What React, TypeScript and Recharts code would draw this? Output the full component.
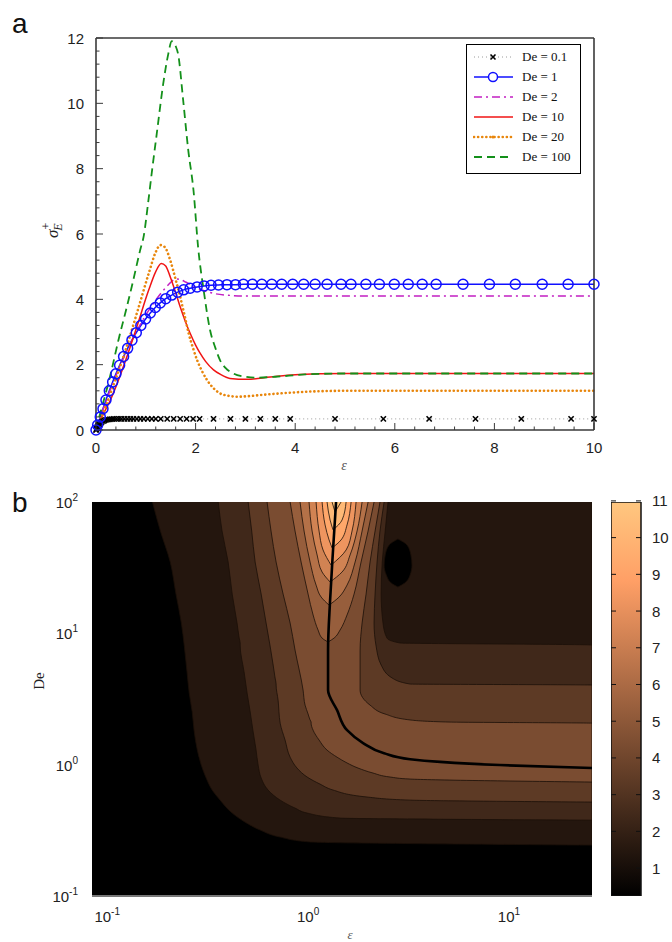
import React from 'react';
import {
  LineChart, Line, XAxis, YAxis, Legend,
  ComposedChart, Area, CartesianGrid, BarChart, Bar,
} from 'recharts';

type Pt = [number, number];
type Row = [number, number, number];

// ---------- panel a : sigma_E^+ against strain, one curve per De ----------
const DE_01: Pt[] = [
  [0, 0], [0.01, 0.03], [0.02, 0.06], [0.035, 0.1], [0.05, 0.14], [0.07, 0.18], [0.09, 0.21],
  [0.11, 0.24], [0.14, 0.27], [0.17, 0.29], [0.2, 0.31], [0.24, 0.32], [0.28, 0.33], [0.32, 0.335],
  [0.36, 0.34], [0.41, 0.34], [0.46, 0.34], [0.51, 0.34], [0.57, 0.34], [0.63, 0.34], [0.69, 0.34],
  [0.75, 0.34], [0.82, 0.34], [0.89, 0.34], [0.96, 0.34], [1.04, 0.34], [1.12, 0.34], [1.2, 0.34],
  [1.3, 0.34], [1.43, 0.34], [1.56, 0.34], [1.69, 0.34], [1.82, 0.34], [1.95, 0.34], [2.08, 0.34],
  [2.36, 0.34], [2.7, 0.34], [3.0, 0.34], [3.3, 0.34], [3.6, 0.34], [3.9, 0.34], [4.8, 0.34],
  [5.77, 0.34], [6.69, 0.34], [7.62, 0.34], [8.54, 0.34], [9.54, 0.34], [10, 0.34],
];
const DE_1: Pt[] = [
  [0, 0], [0.033, 0.15], [0.086, 0.4], [0.14, 0.65], [0.2, 0.92], [0.267, 1.2], [0.334, 1.47],
  [0.4, 1.72], [0.474, 1.98], [0.554, 2.25], [0.635, 2.5], [0.722, 2.75], [0.809, 2.98], [0.9, 3.2],
  [0.995, 3.4], [1.09, 3.58], [1.19, 3.75], [1.29, 3.89], [1.4, 4.02], [1.52, 4.13], [1.64, 4.22],
  [1.76, 4.29], [1.89, 4.34], [2.03, 4.38], [2.17, 4.41], [2.31, 4.43], [2.46, 4.44], [2.63, 4.45],
  [2.8, 4.45], [2.96, 4.46], [3.14, 4.46], [3.33, 4.46], [3.53, 4.46], [3.73, 4.46], [3.95, 4.46],
  [4.17, 4.46], [4.4, 4.46], [4.64, 4.46], [4.92, 4.46], [5.12, 4.46], [5.42, 4.46], [5.69, 4.46],
  [5.99, 4.46], [6.27, 4.46], [6.55, 4.46], [6.83, 4.46], [7.37, 4.46], [7.9, 4.46], [8.42, 4.46],
  [8.96, 4.46], [9.48, 4.46], [10, 4.46],
];
const DE_2: Pt[] = [
  [0, 0], [0.1, 0.45], [0.2, 0.88], [0.3, 1.28], [0.4, 1.66], [0.5, 2.02], [0.6, 2.36], [0.7, 2.68],
  [0.8, 2.98], [0.9, 3.26], [1.0, 3.52], [1.1, 3.76], [1.2, 3.98], [1.3, 4.18], [1.4, 4.36],
  [1.5, 4.52], [1.6, 4.62], [1.7, 4.6], [1.8, 4.53], [1.9, 4.45], [2.0, 4.37], [2.2, 4.25],
  [2.4, 4.17], [2.7, 4.12], [3.0, 4.1], [4.0, 4.1], [10, 4.1],
];
const DE_10: Pt[] = [
  [0, 0], [0.1, 0.35], [0.29, 0.92], [0.55, 1.94], [0.82, 3.16], [1.06, 4.29], [1.2, 4.85],
  [1.31, 5.1], [1.4, 5.02], [1.49, 4.69], [1.6, 4.2], [1.69, 3.77], [1.8, 3.3], [1.89, 2.96],
  [2.0, 2.6], [2.09, 2.35], [2.2, 2.1], [2.36, 1.84], [2.5, 1.7], [2.69, 1.58], [3.03, 1.55],
  [3.5, 1.62], [4.0, 1.69], [4.5, 1.72], [5, 1.73], [10, 1.73],
];
const DE_20: Pt[] = [
  [0, 0], [0.1, 0.35], [0.29, 1.12], [0.55, 2.24], [0.82, 3.57], [1.06, 4.8], [1.2, 5.45],
  [1.29, 5.66], [1.38, 5.6], [1.49, 5.2], [1.6, 4.6], [1.69, 4.08], [1.78, 3.5], [1.86, 2.96],
  [1.95, 2.5], [2.03, 2.14], [2.13, 1.8], [2.23, 1.53], [2.36, 1.28], [2.49, 1.12], [2.65, 1.05],
  [2.83, 1.02], [3.1, 1.04], [3.3, 1.07], [3.7, 1.12], [4.2, 1.17], [5, 1.2], [10, 1.2],
];
const DE_100: Pt[] = [
  [0, 0], [0.1, 0.6], [0.2, 1.15], [0.3, 1.75], [0.45, 2.75], [0.6, 3.65], [0.72, 4.4],
  [0.886, 5.5], [0.96, 5.95], [1.05, 7.0], [1.13, 8.0], [1.22, 9.07], [1.35, 10.6], [1.45, 11.5],
  [1.52, 11.9], [1.6, 11.75], [1.65, 11.5], [1.75, 10.1], [1.85, 8.6], [1.96, 7.3], [2.05, 5.6],
  [2.16, 4.3], [2.29, 3.06], [2.4, 2.5], [2.49, 2.14], [2.6, 1.9], [2.76, 1.73], [3.0, 1.63],
  [3.2, 1.6], [3.6, 1.63], [4.2, 1.7], [5, 1.73], [10, 1.73],
];

const X_MAJOR = [0, 2, 4, 6, 8, 10];
const Y_MAJOR = [0, 2, 4, 6, 8, 10, 12];
const steps = (max: number) =>
  Array.from({ length: Math.round(max / 0.4) + 1 }, (_, i) => Math.round(i * 4) / 10);
const X_TICKS = steps(10);
const Y_TICKS = steps(12);

const toXY = (pts: Pt[]) => pts.map(([eps, s]) => ({ eps, s }));

const SERIES = [
  { name: 'De = 0.1', data: DE_01, stroke: '#9a9a9a', dash: '1 3', width: 1, marker: 'cross' },
  { name: 'De = 1', data: DE_1, stroke: '#1010ff', dash: undefined, width: 1.5, marker: 'circle' },
  { name: 'De = 2', data: DE_2, stroke: '#c21fc2', dash: '8 4 2 4', width: 1.5, marker: 'none' },
  { name: 'De = 10', data: DE_10, stroke: '#f01414', dash: undefined, width: 1.5, marker: 'none' },
  { name: 'De = 20', data: DE_20, stroke: '#e8860c', dash: '0.1 4', width: 2.6, marker: 'none' },
  { name: 'De = 100', data: DE_100, stroke: '#13901a', dash: '8 5', width: 1.8, marker: 'none' },
];

// ---------- panel b : filled contours, rows are [De, eps left, eps right] ----------
const LEVEL_1: Row[] = [
  [100, 0.168, 25.9], [60.1, 0.184, 25.9], [34.9, 0.206, 25.9], [19.9, 0.22, 25.9],
  [11.97, 0.234, 25.9], [8.0, 0.242, 25.9], [4.99, 0.25, 25.9], [3.51, 0.256, 25.9],
  [2.52, 0.265, 25.9], [1.8, 0.271, 25.9], [1.29, 0.281, 25.9], [0.993, 0.294, 25.9],
  [0.791, 0.311, 25.9], [0.641, 0.333, 25.9], [0.537, 0.365, 25.9], [0.428, 0.419, 25.9],
  [0.365, 0.486, 25.9], [0.318, 0.577, 25.9], [0.281, 0.726, 25.9], [0.258, 1.02, 25.9],
  [0.244, 25.9, 25.9],
];
const LEVEL_2: Row[] = [
  [100, 0.357, 2.5], [60.1, 0.373, 2.42], [34.9, 0.4, 2.34], [19.9, 0.419, 2.31],
  [11.97, 0.443, 2.36], [9.2, 0.454, 2.47], [8.44, 0.459, 2.87], [8.15, 0.459, 25.9],
  [4.99, 0.481, 25.9], [3.51, 0.497, 25.9], [2.52, 0.515, 25.9], [1.8, 0.532, 25.9],
  [1.29, 0.551, 25.9], [0.993, 0.564, 25.9], [0.791, 0.584, 25.9], [0.641, 0.632, 25.9],
  [0.537, 0.726, 25.9], [0.467, 0.861, 25.9], [0.428, 0.989, 25.9], [0.392, 1.443, 25.9],
  [0.378, 25.9, 25.9],
];
const LEVEL_3: Row[] = [
  [100, 0.503, 2.39], [60.1, 0.524, 2.28], [34.9, 0.545, 2.205], [19.9, 0.584, 2.155],
  [11.97, 0.618, 2.13], [8.0, 0.647, 2.18], [5.74, 0.67, 2.31], [4.57, 0.685, 2.62],
  [4.11, 0.693, 3.22], [4.04, 0.693, 25.9], [3.1, 0.709, 25.9], [2.07, 0.726, 25.9],
  [1.54, 0.768, 25.9], [1.14, 0.814, 25.9], [0.942, 0.881, 25.9], [0.805, 0.989, 25.9],
  [0.711, 1.147, 25.9], [0.641, 1.331, 25.9], [0.567, 1.966, 25.9], [0.537, 3.22, 25.9],
  [0.519, 25.9, 25.9],
];
const LEVEL_4: Row[] = [
  [100, 0.625, 2.28], [60.1, 0.654, 2.155], [34.9, 0.693, 2.035], [19.9, 0.751, 1.944],
  [11.97, 0.814, 1.857], [7.46, 0.861, 1.815], [3.7, 0.944, 1.815], [2.84, 0.966, 2.035],
  [2.43, 1.0, 2.417], [2.19, 1.023, 3.22], [2.11, 1.035, 5.09], [2.07, 1.035, 25.9],
  [1.83, 1.059, 25.9], [1.54, 1.134, 25.9], [1.29, 1.243, 25.9], [1.14, 1.394, 25.9],
  [1.03, 1.563, 25.9], [0.942, 1.773, 25.9], [0.863, 2.106, 25.9], [0.805, 2.56, 25.9],
  [0.777, 3.22, 25.9], [0.737, 25.9, 25.9],
];
const LEVEL_5: Row[] = [
  [100, 0.814, 2.13], [60.1, 0.861, 1.989], [34.9, 0.923, 1.835], [19.9, 1.0, 1.694],
  [13.8, 1.059, 1.563], [10.6, 1.121, 1.443], [9.2, 1.174, 1.347], [8.59, 1.257, 1.257],
];
const LEVEL_6: Row[] = [
  [100, 0.912, 1.989], [60.1, 0.955, 1.857], [34.9, 1.023, 1.714], [23.3, 1.096, 1.563],
  [18.9, 1.161, 1.427], [16.4, 1.272, 1.272],
];
const LEVEL_7: Row[] = [
  [100, 1.011, 1.857], [60.1, 1.047, 1.753], [39.5, 1.109, 1.618], [29.3, 1.174, 1.476],
  [24.6, 1.287, 1.287],
];
const LEVEL_8: Row[] = [
  [100, 1.096, 1.733], [60.1, 1.134, 1.655], [43.1, 1.187, 1.546], [33.1, 1.301, 1.301],
];
const LEVEL_9: Row[] = [
  [100, 1.174, 1.637], [66.9, 1.215, 1.563], [51.4, 1.272, 1.459], [44.7, 1.316, 1.316],
];
const LEVEL_10: Row[] = [[100, 1.243, 1.546], [72.9, 1.287, 1.476], [61.3, 1.331, 1.331]];
const LEVEL_11: Row[] = [[100, 1.316, 1.459], [83.9, 1.362, 1.362]];

// low pocket inside the upper right plateau
const ISLAND: Row[] = [
  [52.3, 2.8, 2.8], [47.0, 2.53, 3.11], [39.5, 2.42, 3.25], [33.1, 2.39, 3.29],
  [27.8, 2.45, 3.22], [24.2, 2.59, 3.03], [22.5, 2.8, 2.8],
];
// thick line, [De, eps]
const RIDGE: Pt[] = [
  [100, 1.378], [43.1, 1.331], [17.9, 1.287], [7.46, 1.257], [3.7, 1.257], [2.6, 1.394],
  [1.83, 1.563], [1.46, 1.878], [1.22, 2.389], [1.1, 3.22], [1.05, 4.54], [0.993, 9.0],
  [0.942, 25.9],
];

const LEVELS = [LEVEL_1, LEVEL_2, LEVEL_3, LEVEL_4, LEVEL_5, LEVEL_6, LEVEL_7, LEVEL_8,
  LEVEL_9, LEVEL_10, LEVEL_11];
const EPS_DOMAIN = [0.084, 25.9];
const DE_DOMAIN = [0.1, 100];
const CBAR_DOMAIN = [0.24, 10.97];
const CBAR_TICKS = [1, 2, 3, 4, 5, 6, 7, 8, 9, 10, 11];

const toRange = (rows: Row[]) => rows.map(([De, l, r]) => ({ De, eps: [l, r] }));

const copper = (t: number) => {
  const c = Math.max(0, Math.min(1, t));
  return `rgb(${Math.round(255 * Math.min(1, 1.25 * c))},${Math.round(199.2 * c)},${Math.round(126.9 * c)})`;
};
const bandColor = (level: number) => copper((level + 0.5 - 0.27) / 11.03);

const SANS = '"Liberation Sans", Arial, sans-serif';
const SERIF = '"Liberation Serif", "DejaVu Serif", serif';
const FRAME = '#3a3a3a';

// ---------- tick renderers ----------
const BottomTick = ({ x, y, payload }: any) => {
  const major = X_MAJOR.includes(payload.value);
  return (
    <g>
      <line x1={x} x2={x} y1={y} y2={y - (major ? 7 : 3.5)} stroke={FRAME} />
      {major && (
        <text x={x} y={y + 23} textAnchor="middle" fontSize={15} fontFamily={SANS} fill="#1e1e1e">
          {payload.value}
        </text>
      )}
    </g>
  );
};
const TopTick = ({ x, y, payload }: any) => {
  const major = X_MAJOR.includes(payload.value);
  return <line x1={x} x2={x} y1={y} y2={y + (major ? 7 : 3.5)} stroke={FRAME} />;
};
const LeftTick = ({ x, y, payload }: any) => {
  const major = Y_MAJOR.includes(payload.value);
  return (
    <g>
      <line x1={x} x2={x + (major ? 7 : 3.5)} y1={y} y2={y} stroke={FRAME} />
      {major && (
        <text x={x - 12} y={y + 5.5} textAnchor="end" fontSize={15} fontFamily={SANS} fill="#1e1e1e">
          {payload.value}
        </text>
      )}
    </g>
  );
};
const RightTick = ({ x, y, payload }: any) => {
  const major = Y_MAJOR.includes(payload.value);
  return <line x1={x} x2={x - (major ? 7 : 3.5)} y1={y} y2={y} stroke={FRAME} />;
};
const PowTickX = ({ x, y, payload }: any) => (
  <text x={x} y={y + 26} textAnchor="middle" fontSize={15} fontFamily={SANS} fill="#222">
    10<tspan dy={-7} fontSize={10}>{Math.round(Math.log10(payload.value))}</tspan>
  </text>
);
const PowTickY = ({ x, y, payload }: any) => (
  <text x={x} y={y + 6} textAnchor="end" fontSize={15} fontFamily={SANS} fill="#222">
    10<tspan dy={-7} fontSize={10}>{Math.round(Math.log10(payload.value))}</tspan>
  </text>
);
const CbarTick = ({ x, y, payload }: any) => (
  <g>
    <line x1={x - 41} x2={x - 36} y1={y} y2={y} stroke="#111" />
    <line x1={x - 11} x2={x - 16} y1={y} y2={y} stroke="#111" />
    <text x={x} y={y + 5.5} fontSize={15} fontFamily={SANS} fill="#222">{payload.value}</text>
  </g>
);

const CrossDot = (p: any) => {
  const { cx, cy } = p;
  if (cx == null || cy == null) return <g key={p.index} />;
  return (
    <path key={p.index} d={`M${cx - 2.6},${cy - 2.6}L${cx + 2.6},${cy + 2.6}M${cx - 2.6},${cy + 2.6}L${cx + 2.6},${cy - 2.6}`}
      stroke="#000" strokeWidth={1.6} />
  );
};

const LegendSample = ({ s }: { s: typeof SERIES[number] }) => (
  <svg width={41} height={12} style={{ marginLeft: 6, display: 'block' }}>
    <line x1={1} y1={6} x2={40} y2={6} stroke={s.stroke} strokeWidth={s.width}
      strokeDasharray={s.dash} strokeLinecap={s.dash === '0.1 4' ? 'round' : 'butt'} />
    {s.marker === 'cross' && <path d="M17.5,3.5L22.5,8.5M17.5,8.5L22.5,3.5" stroke="#000" strokeWidth={1.6} />}
    {s.marker === 'circle' && <circle cx={20} cy={6} r={4.5} fill="#fff" stroke={s.stroke} strokeWidth={1.5} />}
    {s.dash === '0.1 4' && <circle cx={20} cy={6} r={1.6} fill={s.stroke} />}
  </svg>
);

const renderLegend = () => (
  <div style={{ border: '1.5px solid #000', background: '#fff', width: 115, boxSizing: 'border-box', padding: '2px 0 6px 0' }}>
    {SERIES.map((s) => (
      <div key={s.name} style={{ display: 'flex', alignItems: 'center', height: 20 }}>
        <LegendSample s={s} />
        <span style={{ marginLeft: 8, fontFamily: SERIF, fontSize: 13, color: '#111', whiteSpace: 'nowrap' }}>{s.name}</span>
      </div>
    ))}
  </div>
);

export default function App() {
  return (
    <div style={{ position: 'absolute', left: 0, top: 0, width: 672, height: 942, background: '#fff', overflow: 'hidden' }}>
      <div style={{ position: 'absolute', left: 0, top: 0 }}>
        <LineChart width={672} height={475} margin={{ top: 37, right: 77, bottom: 15, left: 56 }}>
          <XAxis xAxisId="top" orientation="top" type="number" dataKey="eps" domain={[0, 10]} ticks={X_TICKS}
            height={1} tickSize={0} tickMargin={0} tickLine={false} tick={<TopTick />} interval={0}
            axisLine={{ stroke: FRAME, strokeWidth: 1.6 }} />
          <XAxis type="number" dataKey="eps" domain={[0, 10]} ticks={X_TICKS} height={30} interval={0}
            tickSize={0} tickMargin={0} tickLine={false} tick={<BottomTick />}
            axisLine={{ stroke: FRAME, strokeWidth: 1.6 }} />
          <YAxis type="number" domain={[0, 12]} ticks={Y_TICKS} width={40} interval={0}
            tickSize={0} tickMargin={0} tickLine={false} tick={<LeftTick />}
            axisLine={{ stroke: FRAME, strokeWidth: 1.6 }} />
          <YAxis yAxisId="right" orientation="right" type="number" domain={[0, 12]} ticks={Y_TICKS} width={1}
            interval={0} tickSize={0} tickMargin={0} tickLine={false} tick={<RightTick />}
            axisLine={{ stroke: FRAME, strokeWidth: 1.6 }} />
          <Legend verticalAlign="middle" layout="horizontal" content={renderLegend}
            wrapperStyle={{ left: 466, top: 44, bottom: 'auto', width: 'auto', height: 'auto' }} />
          {SERIES.map((s) => (
            <Line key={s.name} data={toXY(s.data)} dataKey="s" type="monotone" stroke={s.stroke}
              strokeWidth={s.width} strokeDasharray={s.dash}
              strokeLinecap={s.dash === '0.1 4' ? 'round' : 'butt'}
              dot={s.marker === 'cross' ? (p: any) => <CrossDot key={p.index} {...p} />
                : s.marker === 'circle' ? { r: 5, stroke: s.stroke, strokeWidth: 1.5, fill: 'none' } : false}
              activeDot={false} isAnimationActive={false} legendType="none" />
          ))}
        </LineChart>
      </div>

      <div style={{ position: 'absolute', left: 0, top: 470 }}>
        <ComposedChart layout="vertical" width={600} height={472} margin={{ top: 32, right: 8, bottom: 16, left: 42 }}>
          <CartesianGrid horizontal={false} vertical={false} fill="#000" stroke="none" />
          <XAxis type="number" scale="log" domain={EPS_DOMAIN} allowDataOverflow ticks={[0.1, 1, 10]}
            height={30} tickSize={0} tickMargin={0} tickLine={false} tick={<PowTickX />}
            axisLine={{ stroke: '#777', strokeWidth: 2 }} />
          <YAxis type="number" dataKey="De" scale="log" domain={DE_DOMAIN} allowDataOverflow reversed
            ticks={[0.1, 1, 10, 100]} width={50} tickSize={0} tickMargin={14} tickLine={false}
            axisLine={false} tick={<PowTickY />} />
          {LEVELS.map((rows, i) => (
            <Area key={i} data={toRange(rows)} dataKey="eps" type="monotone" fill={bandColor(i + 1)}
              fillOpacity={1} stroke="#1a0f08" strokeWidth={0.8} isAnimationActive={false}
              dot={false} activeDot={false} />
          ))}
          <Area data={toRange(ISLAND)} dataKey="eps" type="monotone" fill="#000" fillOpacity={1}
            stroke="#1a0f08" strokeWidth={0.8} isAnimationActive={false} dot={false} activeDot={false} />
          <Line data={RIDGE.map(([De, eps]) => ({ De, eps }))} dataKey="eps" type="monotone" stroke="#000"
            strokeWidth={2.6} dot={false} activeDot={false} isAnimationActive={false} />
        </ComposedChart>
      </div>

      <div style={{ position: 'absolute', left: 611, top: 470 }}>
        <BarChart width={72} height={472} data={[{ name: 'c', range: CBAR_DOMAIN }]} barCategoryGap={0}
          margin={{ top: 32, right: 0, bottom: 46, left: 0 }}>
          <defs>
            <linearGradient id="copperGrad" x1="0" y1="1" x2="0" y2="0">
              <stop offset="0%" stopColor={copper(0)} />
              <stop offset="80%" stopColor={copper(0.8)} />
              <stop offset="100%" stopColor={copper(1)} />
            </linearGradient>
          </defs>
          <XAxis dataKey="name" hide />
          <YAxis orientation="right" type="number" domain={CBAR_DOMAIN} allowDataOverflow ticks={CBAR_TICKS}
            width={42} interval={0} axisLine={false} tickLine={false} tickSize={0} tickMargin={11} tick={<CbarTick />} />
          <Bar dataKey="range" fill="url(#copperGrad)" stroke="#111" strokeWidth={1.5} isAnimationActive={false} />
        </BarChart>
      </div>

      <svg width={672} height={942} style={{ position: 'absolute', left: 0, top: 0, pointerEvents: 'none' }}>
        <text x={12} y={33} fontSize={28} fontFamily={SANS} fill="#111">a</text>
        <text x={12} y={512} fontSize={28} fontFamily={SANS} fill="#111">b</text>
        <text x={344} y={470} fontSize={14} fontStyle="italic" fontFamily={SERIF} fill="#555" textAnchor="middle">ε</text>
        <text x={350} y={939} fontSize={13} fontStyle="italic" fontFamily={SERIF} fill="#555" textAnchor="middle">ε</text>
        <text transform="rotate(-90)" x={-681} y={44} fontSize={15} fontFamily={SERIF} fill="#222" textAnchor="middle">De</text>
        <text transform="rotate(-90)" x={-238} y={58} fontSize={17} fontStyle="italic" fontFamily={SERIF} fill="#222">
          σ<tspan fontSize={12} dy={-8} fontStyle="normal">+</tspan><tspan fontSize={12} dx={-8} dy={12}>E</tspan>
        </text>
      </svg>
    </div>
  );
}
